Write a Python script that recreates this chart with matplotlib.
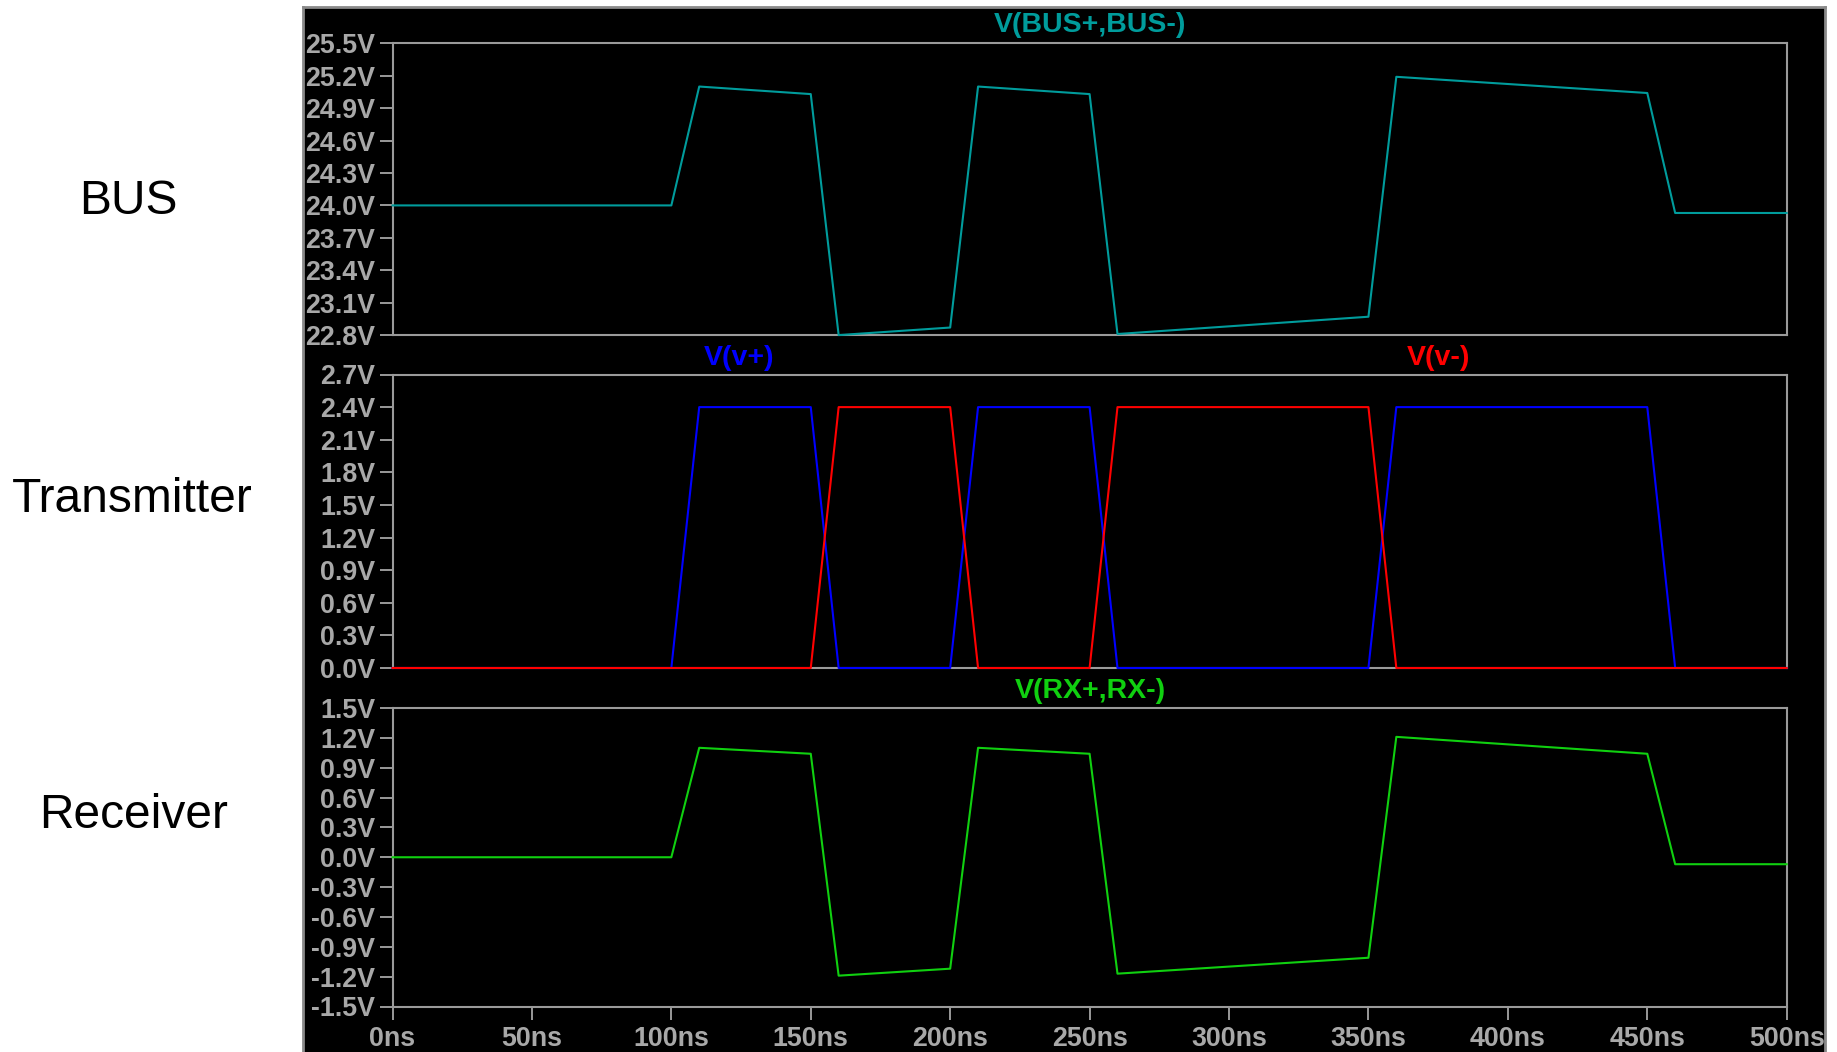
import matplotlib
matplotlib.use("Agg")
import matplotlib.pyplot as plt
from matplotlib.ticker import FixedLocator, FuncFormatter

# ---- data (time in ns, voltages in V) ----
t_ns = [0, 100, 110, 150, 160, 200, 210, 250, 260, 350, 360, 450, 460, 500]
v_bus = [24.00, 24.00, 25.10, 25.03, 22.80, 22.87, 25.10, 25.03, 22.81, 22.97, 25.19, 25.04, 23.93, 23.93]
v_plus = [0, 0, 2.4, 2.4, 0, 0, 2.4, 2.4, 0, 0, 2.4, 2.4, 0, 0]
v_minus = [0, 0, 0, 0, 2.4, 2.4, 0, 0, 2.4, 2.4, 0, 0, 0, 0]
v_rx = [0.00, 0.00, 1.10, 1.04, -1.19, -1.12, 1.10, 1.04, -1.17, -1.01, 1.21, 1.04, -0.07, -0.07]

bus_ticks = [22.8, 23.1, 23.4, 23.7, 24.0, 24.3, 24.6, 24.9, 25.2, 25.5]
tx_ticks = [0.0, 0.3, 0.6, 0.9, 1.2, 1.5, 1.8, 2.1, 2.4, 2.7]
rx_ticks = [-1.5, -1.2, -0.9, -0.6, -0.3, 0.0, 0.3, 0.6, 0.9, 1.2, 1.5]
time_ticks = [0, 50, 100, 150, 200, 250, 300, 350, 400, 450, 500]

row_labels = ["BUS", "Transmitter", "Receiver"]

# ---- style ----
W, H = 1837, 1052
FRAME = "#9A9A9A"
TXT = "#A8A8A8"
C_BUS = "#009C9C"
C_VP = "#0000FF"
C_VM = "#FF0000"
C_RX = "#10D010"
FONT = "Liberation Sans"

fig = plt.figure(figsize=(W / 100, H / 100), dpi=100)
fig.patch.set_facecolor("white")

# black waveform panel (behind the axes)
bg = fig.add_axes([303 / W, -0.01, (1825 - 303) / W, 1.01 - 7 / H], zorder=-10)
bg.set_facecolor("black")
bg.set_xticks([])
bg.set_yticks([])
for s in bg.spines.values():
    s.set_color("#8A8A8A")
    s.set_linewidth(2)

left = 392.5 / W
width = (1786.7 - 392.5) / W

def make_ax(top_px, bot_px):
    ax = fig.add_axes([left, 1 - bot_px / H, width, (bot_px - top_px) / H], zorder=1)
    ax.set_facecolor("black")
    for s in ax.spines.values():
        s.set_color(FRAME)
        s.set_linewidth(1.5)
    ax.set_xlim(0, 500)
    ax.tick_params(axis="both", colors=FRAME, length=9.4, width=1.4,
                   labelcolor=TXT, labelsize=19.3, pad=3)
    return ax

volt_fmt = FuncFormatter(lambda v, p: "%.1fV" % (round(v, 2) + 0.0))
ns_fmt = FuncFormatter(lambda v, p: "%dns" % round(v))

ax1 = make_ax(43.3, 335.1)
ax2 = make_ax(374.5, 668.0)
ax3 = make_ax(708.0, 1006.5)

for ax, ticks in ((ax1, bus_ticks), (ax2, tx_ticks), (ax3, rx_ticks)):
    ax.set_ylim(ticks[0], ticks[-1])
    ax.yaxis.set_major_locator(FixedLocator(ticks))
    ax.yaxis.set_major_formatter(volt_fmt)

for ax in (ax1, ax2):
    ax.set_xticks([])

ax3.xaxis.set_major_locator(FixedLocator(time_ticks))
ax3.xaxis.set_major_formatter(ns_fmt)
ax3.tick_params(axis="x", pad=5)

for ax in (ax1, ax2, ax3):
    for lab in ax.get_yticklabels() + ax.get_xticklabels():
        lab.set_fontfamily(FONT)
        lab.set_fontweight("bold")

ax1.plot(t_ns, v_bus, color=C_BUS, lw=1.5, clip_on=False, zorder=5)
ax2.plot(t_ns, v_plus, color=C_VP, lw=1.5, clip_on=False, zorder=5)
ax2.plot(t_ns, v_minus, color=C_VM, lw=1.5, clip_on=False, zorder=6)
ax3.plot(t_ns, v_rx, color=C_RX, lw=1.5, clip_on=False, zorder=5)

# trace titles
def ftext(x, y, s, color, size=20.5, weight="bold", family=FONT):
    fig.text(x / W, 1 - y / H, s, color=color, fontsize=size, fontweight=weight,
             family=family, ha="center", va="center", zorder=20)

ftext(1090, 25, "V(BUS+,BUS-)", C_BUS)
ftext(739, 358, "V(v+)", C_VP)
ftext(1438, 358, "V(v-)", C_VM)
ftext(1090, 691, "V(RX+,RX-)", C_RX)

# row labels
ftext(128, 201, row_labels[0], "black", size=34.5, weight="normal")
ftext(132, 499, row_labels[1], "black", size=34.5, weight="normal")
ftext(134, 815, row_labels[2], "black", size=34.5, weight="normal")

fig.savefig("out.png", dpi=100, facecolor=fig.get_facecolor())
